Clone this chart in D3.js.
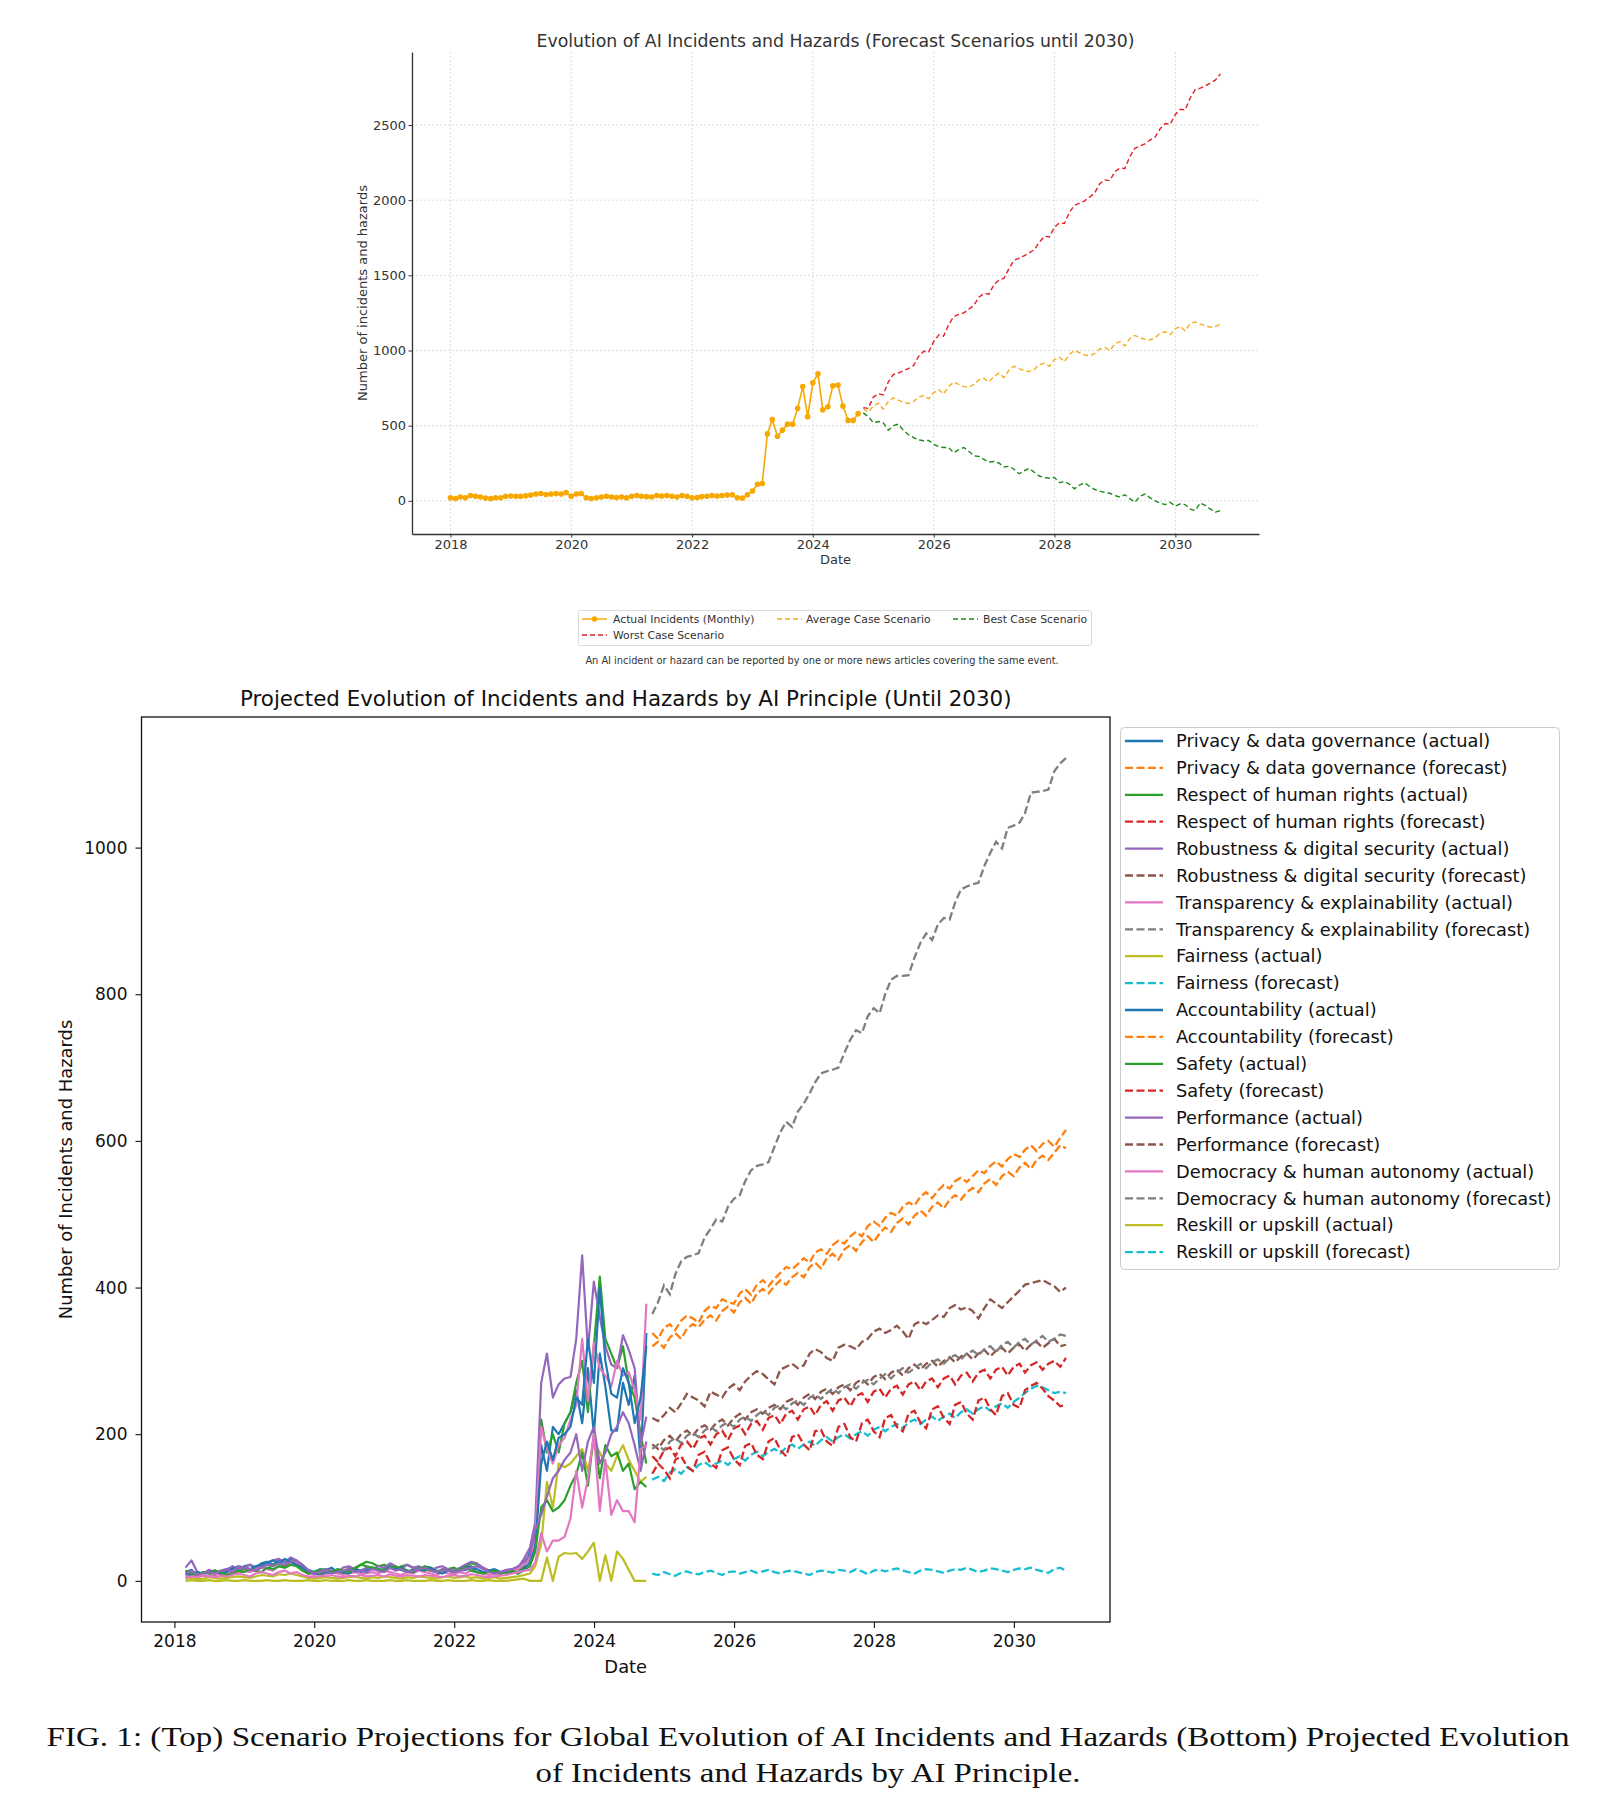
<!DOCTYPE html>
<html><head><meta charset="utf-8">
<script src="https://cdn.jsdelivr.net/npm/d3@7"></script>
<style>body{margin:0;background:#fff;} svg{display:block;font-family:"DejaVu Sans",sans-serif;}</style>
</head><body><svg id="c" width="1622" height="1819"></svg>
<script>
// ---------- TOP CHART DATA (monthly, Jan 2018 .. Oct 2024; forecasts Nov 2024 .. Oct 2030) ----------
const topActual = [
 20,15,25,20,35,30,25,18,15,20,20,30,
 32,30,30,33,38,45,48,42,45,48,45,55,
 30,45,48,20,15,20,25,30,25,22,25,20,
 30,35,30,28,25,35,32,35,30,25,35,30,
 20,22,28,30,35,32,35,38,40,20,18,40,
 65,110,115,445,540,430,470,510,510,615,760,560,
 785,845,605,625,765,770,630,535,535,580];
const topAverage = [
 615,590,630,650,610,660,685,670,655,648,660,690,
 700,680,720,740,710,760,790,775,760,755,775,805,
 815,790,830,850,820,870,895,880,865,860,875,905,
 915,895,940,955,925,975,1000,985,970,965,980,1010,
 1020,1000,1045,1060,1030,1080,1100,1085,1075,1070,1085,1115,
 1125,1105,1145,1160,1130,1180,1190,1175,1165,1155,1160,1175];
const topBest = [
 585,560,520,528,520,470,500,510,470,440,420,405,
 400,402,375,360,355,355,320,340,355,330,300,295,
 275,258,262,250,225,230,210,180,200,215,190,165,
 155,150,155,120,130,110,80,105,120,95,75,65,
 55,50,35,25,40,15,-10,30,45,20,0,-15,
 -25,-10,-35,-20,-25,-55,-65,-15,-30,-55,-75,-65];
const topWorst = [
 620,615,690,712,705,790,840,850,865,880,900,960,
 995,990,1060,1105,1095,1170,1225,1240,1250,1275,1300,1355,
 1380,1375,1440,1470,1480,1545,1600,1615,1630,1650,1670,1720,
 1760,1755,1820,1850,1845,1920,1965,1980,1995,2020,2050,2110,
 2135,2130,2190,2215,2210,2290,2345,2360,2375,2400,2420,2475,
 2510,2505,2570,2605,2600,2680,2735,2745,2760,2780,2800,2840];
const topYTicks = [0,500,1000,1500,2000,2500];
const yearTicks = [2018,2020,2022,2024,2026,2028,2030];

// ---------- BOTTOM CHART DATA (actual Feb 2018 .. Sep 2024; forecast Oct 2024 .. Sep 2030) ----------
const principles = ["Privacy & data governance","Respect of human rights","Robustness & digital security",
 "Transparency & explainability","Fairness","Accountability","Safety","Performance",
 "Democracy & human autonomy","Reskill or upskill"];
const actualPrivacy = [
 12,15,8,10,14,9,12,16,18,14,20,
 22,18,24,26,22,28,25,30,26,22,15,12,
 16,14,18,12,10,14,16,12,15,18,14,16,
 20,18,15,12,16,14,18,15,12,14,16,12,
 14,15,18,12,10,14,16,12,10,14,12,18,
 40,60,185,150,210,200,215,230,260,215,290,200,
 310,265,205,205,270,240,280,160,338];
const actualRespect = [
 8,10,6,12,10,8,12,14,10,12,16,
 14,18,20,16,22,24,20,26,22,14,10,12,
 15,16,12,14,10,18,16,22,26,24,20,22,
 18,16,20,22,18,16,20,18,14,12,16,18,
 14,20,24,22,18,14,12,10,12,14,12,22,
 30,55,220,175,200,175,215,230,270,300,230,320,
 415,330,310,290,320,270,250,200,160];
const actualRobustness = [
 18,28,12,10,15,12,10,14,20,16,18,
 22,18,20,24,28,30,26,32,28,20,14,10,
 12,16,14,12,18,20,16,14,18,16,20,18,
 24,20,16,22,18,20,16,14,18,20,16,14,
 18,22,26,24,18,14,10,12,15,16,18,30,
 45,80,270,310,250,268,276,278,330,444,315,408,
 360,320,295,290,335,315,290,185,224];
const actualTransparency = [
 6,8,5,7,6,9,8,10,12,10,14,
 12,15,18,16,14,20,18,22,24,16,10,8,
 10,9,12,10,8,10,12,9,10,12,10,14,
 12,10,8,12,10,14,12,10,8,12,10,9,
 12,10,14,12,10,8,9,10,12,14,16,22,
 30,60,210,180,160,185,195,220,240,330,245,325,
 290,280,265,300,280,285,260,220,378];
const actualFairness = [
 3,4,2,3,5,4,3,4,5,6,5,
 4,6,8,7,6,9,8,10,8,6,4,3,
 4,5,4,3,4,5,6,4,3,5,4,6,
 5,4,3,5,4,6,5,4,3,5,6,4,
 5,6,4,5,3,4,5,3,4,5,6,8,
 10,20,50,135,100,160,155,160,170,180,150,190,
 175,160,150,170,185,165,150,135,142];
const actualAccountability = [
 10,8,12,9,11,14,10,12,16,20,18,
 16,20,22,25,28,24,30,26,22,18,12,10,
 8,12,10,14,12,10,16,14,12,18,16,14,
 20,16,18,14,12,16,14,18,12,10,14,12,
 15,18,20,16,12,14,12,10,14,12,10,16,
 25,45,160,190,165,195,200,210,250,240,330,270,
 400,300,255,250,290,270,215,250,320];
const actualSafety = [
 14,10,8,12,10,14,12,8,10,14,12,
 16,14,12,18,16,20,18,22,20,14,10,12,
 10,14,12,16,14,12,18,22,20,18,16,14,
 18,20,16,14,12,18,16,14,12,16,14,12,
 16,18,14,12,10,12,14,10,12,14,10,14,
 20,40,100,110,95,100,110,130,145,175,130,200,
 140,185,170,175,150,160,125,135,128];
const actualPerformance = [
 10,14,8,10,12,10,14,16,12,20,18,
 16,14,18,22,20,24,22,26,28,22,14,10,
 12,14,10,12,14,16,12,14,12,16,14,12,
 18,14,16,12,14,16,18,14,12,16,14,12,
 14,16,18,20,16,12,10,12,14,16,20,26,
 35,70,90,115,140,150,165,175,200,150,190,210,
 160,175,200,210,230,215,185,150,190];
const actualDemocracy = [
 4,6,5,8,6,5,7,6,8,10,8,
 6,10,12,10,8,12,14,10,12,8,6,5,
 7,6,8,6,5,7,6,8,6,7,8,6,
 9,7,6,8,7,6,8,7,6,5,7,8,
 6,7,9,8,6,5,6,7,8,10,12,14,
 15,25,65,40,55,55,60,85,150,100,140,200,
 95,165,90,110,95,95,80,180,185];
const actualReskill = [
 0,1,0,0,1,0,0,1,0,0,1,
 0,0,0,1,0,0,1,0,0,0,1,0,
 0,1,0,0,0,1,0,0,1,0,0,0,
 1,0,0,1,0,0,0,1,0,0,1,0,
 0,0,1,0,0,1,0,0,0,1,2,3,
 0,0,0,32,0,33,38,37,38,30,40,52,
 0,35,0,40,30,15,0,0,0];

const forecastPrivacy = [
 338,330,345,350,342,355,362,358,352,368,375,372,
 384,380,378,392,398,390,404,410,402,412,420,428,
 425,432,440,434,448,452,446,458,464,460,470,476,
 470,484,490,484,495,502,498,510,516,512,524,530,
 522,532,540,535,545,550,544,552,560,556,566,572,
 565,575,582,578,588,594,586,596,600,592,604,615];
const forecastRespect = [
 170,162,178,182,170,186,190,180,194,198,186,200,
 205,192,208,212,200,214,218,206,222,226,214,228,
 232,220,234,238,226,240,245,232,246,250,238,252,
 256,244,258,262,250,262,266,254,268,272,260,272,
 276,264,276,280,268,280,284,272,284,288,276,288,
 292,280,292,296,284,294,298,288,296,300,292,304];
const forecastRobustness = [
 222,218,226,236,230,242,255,250,246,238,258,254,
 250,262,268,260,272,280,286,282,275,268,288,292,
 296,290,294,310,316,312,304,300,318,322,320,316,
 326,330,340,344,338,342,348,340,330,350,354,350,
 356,362,360,372,376,370,373,368,358,372,384,378,
 372,380,388,396,404,406,408,410,406,402,394,400];
const forecastTransparency = [
 364,380,403,391,418,436,442,444,447,468,480,493,
 490,510,521,526,545,560,566,568,571,592,612,626,
 619,640,651,665,680,692,695,697,700,720,738,751,
 747,770,781,774,800,820,825,825,826,850,870,883,
 874,895,904,902,925,943,947,950,952,975,993,1008,
 999,1027,1030,1034,1047,1075,1076,1077,1079,1104,1115,1122];
const forecastFairness = [
 138,142,136,148,152,146,155,150,158,162,156,160,
 164,158,166,170,164,172,176,170,176,180,174,182,
 186,180,186,190,184,192,196,190,196,200,194,200,
 204,198,206,210,204,210,214,208,216,220,214,220,
 224,218,224,228,222,230,234,228,234,238,232,238,
 242,236,244,250,256,262,266,264,260,256,258,256];
const forecastAccountability = [
 320,326,318,332,338,330,344,350,346,356,362,355,
 368,374,366,380,386,378,392,398,392,402,410,404,
 414,420,414,428,434,426,440,446,438,452,458,450,
 462,470,462,474,482,476,488,494,486,498,505,498,
 510,516,508,520,526,520,530,536,530,542,548,540,
 552,558,552,564,570,562,574,580,574,584,594,590];
const forecastSafety = [
 146,160,152,140,165,170,156,150,172,176,160,154,
 178,182,166,158,184,188,172,166,190,195,178,170,
 196,200,186,178,204,206,190,184,210,214,196,190,
 215,220,204,196,222,226,210,204,228,232,216,208,
 234,238,222,214,240,244,228,220,246,250,234,226,
 252,256,240,236,260,266,270,262,252,246,238,240];
const forecastPerformance = [
 186,180,192,198,190,200,205,198,208,212,206,215,
 220,212,222,228,220,230,234,228,236,240,234,244,
 248,240,250,255,248,258,262,255,264,268,260,270,
 275,268,278,282,275,284,288,280,290,295,288,296,
 300,292,300,305,298,306,310,302,310,315,306,314,
 318,310,318,322,314,322,326,318,324,330,320,322];
const forecastDemocracy = [
 180,186,178,190,195,188,198,202,196,205,210,204,
 212,216,210,220,224,218,226,232,226,236,240,234,
 242,246,240,250,254,248,256,262,256,264,268,262,
 270,274,268,276,282,276,284,290,284,290,296,290,
 298,302,296,304,308,302,310,314,308,316,320,312,
 322,326,318,326,330,322,328,334,326,330,336,334];
const forecastReskill = [
 10,8,12,9,7,11,13,10,9,12,14,11,
 8,12,13,10,12,14,11,13,15,12,10,13,
 14,12,10,8,12,14,13,11,15,14,12,16,
 13,9,14,15,13,15,17,14,12,10,14,16,
 15,13,11,14,16,15,18,15,12,14,17,16,
 14,12,15,17,16,18,15,13,11,16,18,14];
const bottomYTicks = [0,200,400,600,800,1000];

const actualSets = [actualPrivacy,actualRespect,actualRobustness,actualTransparency,actualFairness,
 actualAccountability,actualSafety,actualPerformance,actualDemocracy,actualReskill];
const forecastSets = [forecastPrivacy,forecastRespect,forecastRobustness,forecastTransparency,forecastFairness,
 forecastAccountability,forecastSafety,forecastPerformance,forecastDemocracy,forecastReskill];
const tab10 = ["#1f77b4","#ff7f0e","#2ca02c","#d62728","#9467bd","#8c564b","#e377c2","#7f7f7f","#bcbd22","#17becf"];

const svg = d3.select("#c");
svg.append("rect").attr("width",1622).attr("height",1819).attr("fill","#fff");

function padTime(ext){const s=ext[1]-ext[0];return [new Date(+ext[0]-0.05*s),new Date(+ext[1]+0.05*s)];}
function padLin(lo,hi){const s=hi-lo;return [lo-0.05*s,hi+0.05*s];}
const plain = d3.format("d");

// ================= TOP CHART =================
(function(){
 const L=412,R=1259,T=52,B=534;
 const aDates = topActual.map((v,i)=>new Date(2018,i,1));
 const fDates = topAverage.map((v,i)=>new Date(2024,10+i,1));
 const x = d3.scaleTime().domain(padTime([aDates[0],fDates[fDates.length-1]])).range([L,R]);
 const all = topActual.concat(topAverage,topBest,topWorst);
 const y = d3.scaleLinear().domain(padLin(d3.min(all),d3.max(all))).range([B,T]);
 const g = svg.append("g").attr("fill","#333");
 const years = yearTicks.map(yv=>new Date(yv,0,1));
 // grid
 g.append("g").selectAll("line").data(years).join("line")
  .attr("x1",d=>x(d)).attr("x2",d=>x(d)).attr("y1",T).attr("y2",B)
  .attr("stroke","#d4d4d4").attr("stroke-width",0.8).attr("stroke-dasharray","2,2");
 g.append("g").selectAll("line").data(topYTicks).join("line")
  .attr("x1",L).attr("x2",R).attr("y1",d=>y(d)).attr("y2",d=>y(d))
  .attr("stroke","#d4d4d4").attr("stroke-width",0.8).attr("stroke-dasharray","2,2");
 const xa = g.append("g").attr("transform",`translate(0,${B})`)
  .call(d3.axisBottom(x).tickValues(years).tickFormat(d3.timeFormat("%Y")).tickSize(3.5).tickPadding(2.5).tickSizeOuter(0));
 const ya = g.append("g").attr("transform",`translate(${L},0)`)
  .call(d3.axisLeft(y).tickValues(topYTicks).tickFormat(plain).tickSize(3.5).tickPadding(2.5).tickSizeOuter(0));
 [xa,ya].forEach(a=>{a.selectAll("text").attr("fill","#333").attr("font-size",13).attr("font-family","DejaVu Sans");
  a.selectAll("line").attr("stroke","#333"); a.select(".domain").attr("stroke","#333").attr("stroke-width",1.3);});
 const line = d3.line().x(d=>x(d[0])).y(d=>y(d[1]));
 const fc = [[topAverage,"#f5ae1e"],[topBest,"#1a8a1a"],[topWorst,"#e3202a"]];
 fc.forEach(([arr,c])=>{
  g.append("path").datum(arr.map((v,i)=>[fDates[i],v])).attr("d",line).attr("fill","none")
   .attr("stroke",c).attr("stroke-width",1.4).attr("stroke-dasharray","5,3");
 });
 const ad = topActual.map((v,i)=>[aDates[i],v]);
 g.append("path").datum(ad).attr("d",line).attr("fill","none").attr("stroke","#f6a800").attr("stroke-width",1.6);
 g.append("g").selectAll("circle").data(ad).join("circle").attr("cx",d=>x(d[0])).attr("cy",d=>y(d[1]))
  .attr("r",2.8).attr("fill","#f6a800");
 g.append("text").attr("x",(L+R)/2).attr("y",47).attr("text-anchor","middle").attr("font-size",17.3).attr("fill","#333")
  .text("Evolution of AI Incidents and Hazards (Forecast Scenarios until 2030)");
 g.append("text").attr("x",(L+R)/2).attr("y",564).attr("text-anchor","middle").attr("font-size",13).attr("fill","#333").text("Date");
 g.append("text").attr("transform",`translate(367,${(T+B)/2}) rotate(-90)`).attr("text-anchor","middle")
  .attr("font-size",13).attr("fill","#333").text("Number of incidents and hazards");
 // legend
 const lg = svg.append("g");
 lg.append("rect").attr("x",578.5).attr("y",610.5).attr("width",513).attr("height",35).attr("rx",2)
  .attr("fill","#fff").attr("stroke","#d0d0d0").attr("stroke-width",0.8);
 const items = [
  {t:"Actual Incidents (Monthly)",c:"#f6a800",dash:null,m:true,hx:582,tx:613,y:619},
  {t:"Average Case Scenario",c:"#f5ae1e",dash:"5,3",hx:777,tx:806,y:619},
  {t:"Best Case Scenario",c:"#1a8a1a",dash:"5,3",hx:953,tx:983,y:619},
  {t:"Worst Case Scenario",c:"#e3202a",dash:"5,3",hx:582,tx:613,y:635}];
 items.forEach(it=>{
  lg.append("line").attr("x1",it.hx).attr("x2",it.hx+25).attr("y1",it.y).attr("y2",it.y).attr("stroke",it.c)
   .attr("stroke-width",1.4).attr("stroke-dasharray",it.dash);
  if(it.m) lg.append("circle").attr("cx",it.hx+12.5).attr("cy",it.y).attr("r",2.8).attr("fill",it.c);
  lg.append("text").attr("x",it.tx).attr("y",it.y).attr("dy","0.35em").attr("font-size",10.8).attr("fill","#333").text(it.t);
 });
 lg.append("text").attr("x",822).attr("y",661).attr("dy","0.35em").attr("text-anchor","middle").attr("font-size",9.8)
  .attr("fill","#333").text("An AI incident or hazard can be reported by one or more news articles covering the same event.");
})();

// ================= BOTTOM CHART =================
(function(){
 const L=141.5,R=1110,T=717,B=1622;
 const aDates = actualPrivacy.map((v,i)=>new Date(2018,2+i,0));
 const fDates = forecastPrivacy.map((v,i)=>new Date(2024,10+i,0));
 const x = d3.scaleTime().domain(padTime([aDates[0],fDates[fDates.length-1]])).range([L,R]);
 const all = actualSets.flat().concat(forecastSets.flat());
 const y = d3.scaleLinear().domain(padLin(d3.min(all),d3.max(all))).range([B,T]);
 const g = svg.append("g");
 const years = yearTicks.map(yv=>new Date(yv,0,1));
 const line = d3.line().x(d=>x(d[0])).y(d=>y(d[1]));
 svg.append("clipPath").attr("id","bclip").append("rect").attr("x",L).attr("y",T).attr("width",R-L).attr("height",B-T);
 const pg = g.append("g").attr("clip-path","url(#bclip)");
 const legendItems=[];
 principles.forEach((p,k)=>{
  const ca = tab10[(2*k)%10], cf = tab10[(2*k+1)%10];
  pg.append("path").datum(actualSets[k].map((v,i)=>[aDates[i],v])).attr("d",line).attr("fill","none")
   .attr("stroke",ca).attr("stroke-width",2.2).attr("stroke-linejoin","round");
  pg.append("path").datum(forecastSets[k].map((v,i)=>[fDates[i],v])).attr("d",line).attr("fill","none")
   .attr("stroke",cf).attr("stroke-width",2.3).attr("stroke-dasharray","8,3.5");
  legendItems.push({t:p+" (actual)",c:ca,dash:null});
  legendItems.push({t:p+" (forecast)",c:cf,dash:"8,3.5"});
 });
 g.append("rect").attr("x",L).attr("y",T).attr("width",R-L).attr("height",B-T).attr("fill","none")
  .attr("stroke","#111").attr("stroke-width",1.3);
 const xa = g.append("g").attr("transform",`translate(0,${B})`)
  .call(d3.axisBottom(x).tickValues(years).tickFormat(d3.timeFormat("%Y")).tickSize(6).tickPadding(7).tickSizeOuter(0));
 const ya = g.append("g").attr("transform",`translate(${L},0)`)
  .call(d3.axisLeft(y).tickValues(bottomYTicks).tickFormat(plain).tickSize(6).tickPadding(8).tickSizeOuter(0));
 [xa,ya].forEach(a=>{a.select(".domain").remove();
  a.selectAll("text").attr("fill","#111").attr("font-size",17).attr("font-family","DejaVu Sans");
  a.selectAll("line").attr("stroke","#111").attr("stroke-width",1.1);});
 g.append("text").attr("x",(L+R)/2).attr("y",706).attr("text-anchor","middle").attr("font-size",21.4).attr("fill","#111")
  .text("Projected Evolution of Incidents and Hazards by AI Principle (Until 2030)");
 g.append("text").attr("x",(L+R)/2).attr("y",1673).attr("text-anchor","middle").attr("font-size",17.9).attr("fill","#111").text("Date");
 g.append("text").attr("transform",`translate(72,${(T+B)/2}) rotate(-90)`).attr("text-anchor","middle")
  .attr("font-size",17.9).attr("fill","#111").text("Number of Incidents and Hazards");
 // legend
 const lg = svg.append("g");
 lg.append("rect").attr("x",1120.5).attr("y",727.5).attr("width",439).attr("height",542).attr("rx",4)
  .attr("fill","#fff").attr("fill-opacity",0.8).attr("stroke","#ccc").attr("stroke-width",1);
 legendItems.forEach((it,i)=>{
  const yy = 741 + i*26.9;
  lg.append("line").attr("x1",1125).attr("x2",1163).attr("y1",yy).attr("y2",yy).attr("stroke",it.c)
   .attr("stroke-width",2.3).attr("stroke-dasharray",it.dash);
  lg.append("text").attr("x",1176).attr("y",yy).attr("dy","0.35em").attr("font-size",17.8).attr("fill","#111").text(it.t);
 });
})();

// caption
svg.append("text").attr("x",808).attr("y",1746).attr("text-anchor","middle").attr("font-family","Liberation Serif")
 .attr("font-size",28).attr("fill","#111").attr("textLength",1523).attr("lengthAdjust","spacingAndGlyphs")
 .text("FIG. 1: (Top) Scenario Projections for Global Evolution of AI Incidents and Hazards (Bottom) Projected Evolution");
svg.append("text").attr("x",808).attr("y",1782).attr("text-anchor","middle").attr("font-family","Liberation Serif")
 .attr("font-size",28).attr("fill","#111").attr("textLength",545).attr("lengthAdjust","spacingAndGlyphs")
 .text("of Incidents and Hazards by AI Principle.");
</script></body></html>
